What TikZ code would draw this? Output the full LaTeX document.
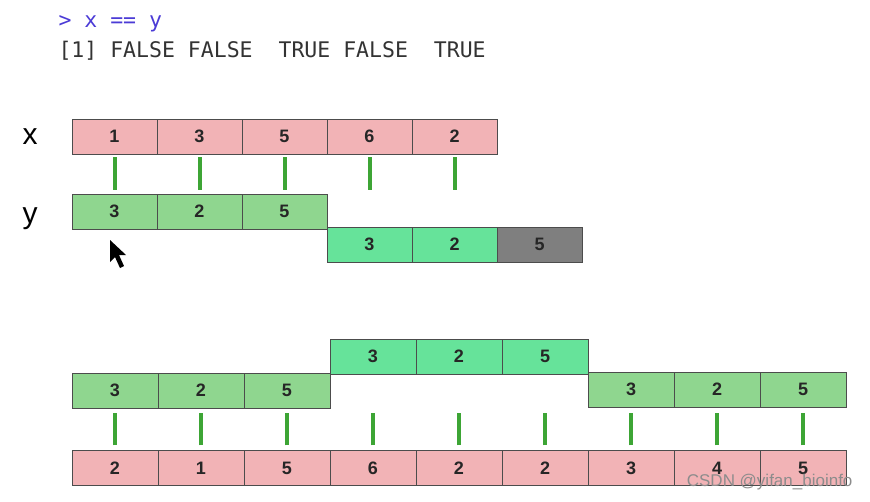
\documentclass[tikz,border=0pt]{standalone}
\usepackage{fontspec}
\setmainfont{Liberation Sans}
\setmonofont{DejaVu Sans Mono}
\definecolor{xpink}{HTML}{F2B3B6}
\definecolor{ygreen}{HTML}{8FD68F}
\definecolor{rgreen}{HTML}{66E39A}
\definecolor{rgray}{HTML}{7F7F7F}
\definecolor{tickgreen}{HTML}{3DA535}
\definecolor{rblue}{HTML}{4B3BD6}

\begin{document}
\begin{tikzpicture}[x=1pt,y=-1pt,
  cell/.style={draw=black!70, minimum height=35pt, minimum width=85pt, inner sep=0pt,
    font=\fontsize{18}{18}\selectfont\bfseries, text=black!85},
  wcell/.style={cell, minimum width=86pt},
  xcell/.style={fill=xpink},
  ycell/.style={fill=ygreen},
  rcell/.style={fill=rgreen},
  gcell/.style={fill=rgray},
  tick/.style={draw=tickgreen, line width=4pt},
  rcode/.style={anchor=base west, font=\ttfamily\fontsize{21.5}{21.5}\selectfont},
  vlabel/.style={anchor=base, font=\fontsize{30}{30}\selectfont}]
\useasboundingbox (0,0) rectangle (870,501);
% console output:
\node[rcode, text=rblue] (cmd) at (55,27) {> x == y};
\node[rcode, text=black!80] (res) at (55,57) {[1] FALSE~FALSE~~TRUE~FALSE~~TRUE};
% x and y, recycling:
\node[vlabel] (xlab) at (30,144) {x};
\node[vlabel] (ylab) at (30,223) {y};
\foreach \v [count=\i] in {1,3,5,6,2}
  \node[cell, xcell] (x\i) at (29.5+85*\i,136.5) {\v};
\foreach \v [count=\i] in {3,2,5}
  \node[cell, ycell] (y\i) at (29.5+85*\i,211.5) {\v};
\node[cell, rcell] (r1) at (369.5,244.5) {3};
\node[cell, rcell] (r2) at (454.5,244.5) {2};
\node[cell, gcell] (r3) at (539.5,244.5) {5};
\foreach \i in {1,...,5}
  \draw[tick] ([yshift=-3pt]x\i.south) -- ([yshift=4pt]x\i.south |- y1.north);
% mouse pointer
\fill (110,240) -- (110,262) -- (115,257) -- (120,268) -- (124,266) -- (119,255) -- (126,255) -- cycle;
% longer vector:
\foreach \v [count=\i] in {3,2,5}
  \node[wcell, ycell] (l\i) at (29+86*\i,390.5) {\v};
\foreach \v [count=\i] in {3,2,5}
  \node[wcell, rcell] (m\i) at (287+86*\i,356.5) {\v};
\foreach \v [count=\i] in {3,2,5}
  \node[wcell, ycell] (n\i) at (545+86*\i,389.5) {\v};
\foreach \v [count=\i] in {2,1,5,6,2,2,3,4,5}
  \node[wcell, xcell] (p\i) at (29+86*\i,468) {\v};
\foreach \i in {1,...,9}
  \draw[tick] ([yshift=5pt]p\i.north) -- ([yshift=-5pt]p\i.north |- l1.south);
% watermark
\node[text=black!45, font=\fontsize{17}{17}\selectfont, anchor=east] (mark) at (856,482) {CSDN @yifan\_bioinfo};
\end{tikzpicture}
\end{document}
